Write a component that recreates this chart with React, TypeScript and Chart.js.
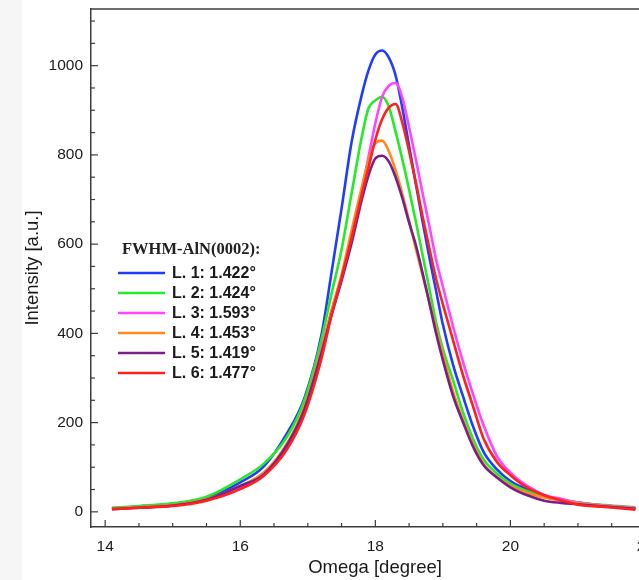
import React, { useEffect, useRef } from "react";
import { Chart, registerables } from "chart.js";

Chart.register(...registerables);

// ---- data ----
const omega = [14.1, 14.5, 15.0, 15.5, 16.0, 16.35, 16.7, 16.95, 17.2, 17.35, 17.5, 17.65, 17.8, 17.9, 18.0, 18.1, 18.2, 18.3, 18.4, 18.5, 18.6, 18.7, 18.8, 18.9, 19.0, 19.15, 19.3, 19.45, 19.6, 19.8, 20.0, 20.25, 20.5, 20.75, 21.0, 21.4, 21.85];

const intensityL1 = [8, 12, 18, 30, 66, 102, 178, 255, 395, 535, 680, 830, 935, 990, 1025, 1034, 1018, 978, 905, 820, 735, 650, 570, 495, 420, 330, 258, 190, 135, 95, 69, 50, 36, 27, 21, 14, 8];
const intensityL2 = [9, 13, 19, 34, 73, 108, 170, 250, 385, 488, 588, 715, 841, 905, 922, 930, 908, 852, 790, 722, 650, 575, 500, 425, 365, 295, 222, 162, 118, 86, 63, 46, 35, 28, 21, 15, 10];
const intensityL3 = [7, 10, 15, 27, 56, 88, 150, 228, 365, 450, 528, 618, 722, 796, 871, 930, 955, 961, 928, 862, 790, 714, 640, 565, 505, 416, 335, 262, 195, 125, 88, 58, 38, 29, 21, 14, 9];
const intensityL4 = [7, 10, 15, 28, 58, 88, 155, 235, 362, 450, 532, 632, 728, 788, 826, 832, 808, 765, 712, 652, 590, 530, 470, 410, 352, 270, 205, 150, 108, 78, 58, 42, 32, 25, 19, 13, 8];
const intensityL5 = [6, 9, 14, 27, 58, 84, 152, 230, 355, 440, 518, 603, 700, 755, 792, 798, 785, 750, 703, 648, 598, 535, 468, 400, 340, 260, 200, 145, 105, 77, 55, 37, 25, 20, 17, 12, 7];
const intensityL6 = [6, 9, 13, 25, 51, 81, 142, 218, 342, 440, 525, 615, 712, 772, 834, 880, 906, 914, 872, 808, 738, 662, 590, 522, 465, 385, 305, 235, 165, 112, 82, 54, 37, 26, 16, 11, 5];

const seriesValues = [intensityL1, intensityL2, intensityL3, intensityL4, intensityL5, intensityL6];
const seriesLabels = ["L. 1: 1.422°", "L. 2: 1.424°", "L. 3: 1.593°", "L. 4: 1.453°", "L. 5: 1.419°", "L. 6: 1.477°"];
const seriesColors = ["#1f3cff", "#26ea26", "#ff45ff", "#ff8a1c", "#7a1e88", "#ff2020"];
const legendTitle = "FWHM-AlN(0002):";

const xTickValues = [14, 16, 18, 20, 22];
const yTickValues = [0, 200, 400, 600, 800, 1000];
const xMinorStep = 0.5;
const yMinorStep = 50;
const xTitle = "Omega [degree]";
const yTitle = "Intensity [a.u.]";

const AXIS_COLOR = "#3c3c3c";

const frameAndTicksPlugin = {
  id: "frameAndTicks",
  afterDatasetsDraw(chart: any) {
    const { ctx, chartArea, scales } = chart;
    const xs = scales.x;
    const ys = scales.y;
    ctx.save();
    ctx.strokeStyle = AXIS_COLOR;
    ctx.lineWidth = 1.5;
    ctx.beginPath();
    ctx.moveTo(chartArea.left, chartArea.top);
    ctx.lineTo(chartArea.right, chartArea.top);
    ctx.stroke();
    ctx.lineWidth = 1.2;
    const xStart = Math.ceil(xs.min / xMinorStep) * xMinorStep;
    for (let v = xStart; v <= xs.max + 1e-9; v += xMinorStep) {
      const major = xTickValues.some((t) => Math.abs(t - v) < 1e-6);
      const px = xs.getPixelForValue(v);
      ctx.beginPath();
      ctx.moveTo(px, chartArea.bottom);
      ctx.lineTo(px, chartArea.bottom - (major ? 7 : 4));
      ctx.stroke();
    }
    const yStart = Math.ceil(ys.min / yMinorStep) * yMinorStep;
    for (let v = yStart; v <= ys.max + 1e-9; v += yMinorStep) {
      const major = yTickValues.some((t) => Math.abs(t - v) < 1e-6);
      const py = ys.getPixelForValue(v);
      ctx.beginPath();
      ctx.moveTo(chartArea.left, py);
      ctx.lineTo(chartArea.left + (major ? 7 : 4), py);
      ctx.stroke();
    }
    ctx.restore();
  },
  afterDraw(chart: any) {
    const { ctx, chartArea } = chart;
    ctx.save();
    const lx = chartArea.left + 27;
    const titleY = chartArea.top + 241;
    ctx.fillStyle = "#222";
    ctx.textBaseline = "middle";
    ctx.textAlign = "left";
    ctx.font = "bold 16.5px 'Liberation Serif', 'Times New Roman', serif";
    ctx.fillText(legendTitle, lx + 4, titleY);
    ctx.font = "bold 16px 'Liberation Sans', Arial, sans-serif";
    seriesLabels.forEach((label, i) => {
      const y = titleY + 23 + i * 20;
      ctx.strokeStyle = seriesColors[i];
      ctx.lineWidth = 2.5;
      ctx.beginPath();
      ctx.moveTo(lx, y);
      ctx.lineTo(lx + 47, y);
      ctx.stroke();
      ctx.fillStyle = "#1a1a1a";
      ctx.fillText(label, lx + 54, y + 1);
    });
    ctx.restore();
  },
};

export default function App() {
  const canvasRef = useRef<HTMLCanvasElement | null>(null);

  useEffect(() => {
    if (!canvasRef.current) return;
    const datasets = seriesValues.map((vals, i) => ({
      label: seriesLabels[i],
      data: omega.map((x, j) => ({ x, y: vals[j] })),
      borderColor: seriesColors[i],
      backgroundColor: seriesColors[i],
      borderWidth: 2.6,
      pointRadius: 0,
      fill: false,
      cubicInterpolationMode: "monotone" as const,
      order: seriesValues.length - 1 - i,
    }));

    const chart = new Chart(canvasRef.current, {
      type: "line",
      data: { datasets },
      options: {
        animation: false,
        responsive: false,
        devicePixelRatio: 1,
        layout: { padding: { top: 9, right: 41, bottom: 0, left: 0 } },
        plugins: {
          legend: { display: false },
          tooltip: { enabled: false },
        },
        scales: {
          x: {
            type: "linear",
            min: 13.79,
            max: 22.2,
            afterBuildTicks: (scale: any) => {
              scale.ticks = xTickValues.map((v) => ({ value: v }));
            },
            afterFit: (scale: any) => {
              scale.height = 53;
              scale.paddingLeft = 0;
              scale.paddingRight = 0;
            },
            grid: { display: false, drawTicks: false },
            border: { display: true, color: AXIS_COLOR, width: 1.5 },
            ticks: {
              padding: 10,
              color: "#1a1a1a",
              font: { family: "'Liberation Sans', Arial, sans-serif", size: 15.5 },
              maxRotation: 0,
              autoSkip: false,
              callback: (v: any) => String(v),
            },
            title: {
              display: true,
              text: xTitle,
              color: "#1a1a1a",
              font: { family: "'Liberation Sans', Arial, sans-serif", size: 18.5 },
              padding: { top: 0, bottom: 1 },
            },
          },
          y: {
            type: "linear",
            min: -34,
            max: 1127,
            afterBuildTicks: (scale: any) => {
              scale.ticks = yTickValues.map((v) => ({ value: v }));
            },
            afterFit: (scale: any) => {
              scale.width = 91;
              scale.paddingTop = 0;
              scale.paddingBottom = 0;
            },
            grid: { display: false, drawTicks: false },
            border: { display: true, color: AXIS_COLOR, width: 1.5 },
            ticks: {
              padding: 8,
              color: "#1a1a1a",
              font: { family: "'Liberation Sans', Arial, sans-serif", size: 15.5 },
              autoSkip: false,
              callback: (v: any) => String(v),
            },
            title: {
              display: true,
              text: yTitle,
              color: "#1a1a1a",
              font: { family: "'Liberation Sans', Arial, sans-serif", size: 18.5 },
              padding: { top: 22, bottom: 0 },
            },
          },
        },
      },
      plugins: [frameAndTicksPlugin],
    });
    return () => chart.destroy();
  }, []);

  return (
    <div
      style={{
        position: "fixed",
        left: 0,
        top: 0,
        width: 639,
        height: 580,
        overflow: "hidden",
        background: "#ffffff",
      }}
    >
      <div
        style={{
          position: "absolute",
          left: 0,
          top: 0,
          width: 22,
          height: 580,
          background: "#f6f6f6",
        }}
      />
      <canvas
        ref={canvasRef}
        width={700}
        height={580}
        style={{ position: "absolute", left: 0, top: 0, width: 700, height: 580 }}
      />
    </div>
  );
}
